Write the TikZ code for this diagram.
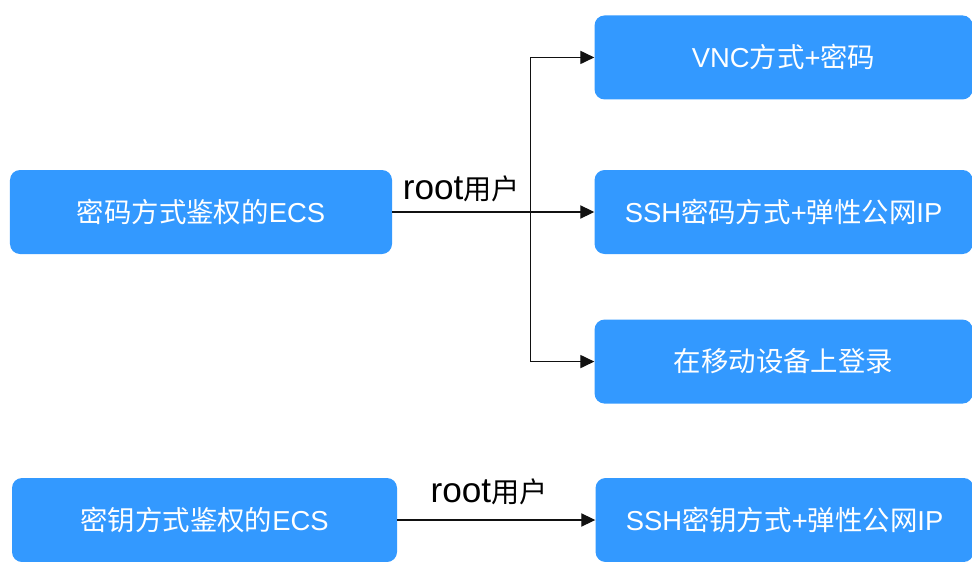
\documentclass[tikz,border=0pt]{standalone}
\usepackage{fontspec}
\setmainfont{Liberation Sans}
\newfontfamily\cjk{Noto Sans CJK SC}
\definecolor{boxblue}{HTML}{3399FF}
\definecolor{fgwhite}{HTML}{FFFFFF}
\definecolor{linegray}{HTML}{111111}
\usepackage{tikz}
\usetikzlibrary{arrows.meta, positioning, calc}
\newcommand{\zh}[1]{{\cjk #1}}
\newcommand{\rootuser}{{\fontsize{25}{30}\selectfont root}{\fontsize{20}{24}\selectfont\cjk 用户}}

\begin{document}
\begin{tikzpicture}[
  node distance=1.7cm,
  ecsbox/.style={rectangle, rounded corners=0.25cm, fill=boxblue, text=fgwhite, minimum width=#1, minimum height=2.1cm, align=center, font=\fontsize{19.5}{24}\selectfont, inner sep=0pt},
  arr/.style={-{Triangle[length=3.5mm, width=3.3mm]}, linegray, line width=0.9pt},
  lbl/.style={text=black, inner sep=1pt},
]
  \useasboundingbox (0,0) rectangle (24.3,-14.025);

  % Password ECS
  \node[ecsbox=9.55cm] (ecs1) at (5.025,-5.3) {\zh{密码方式鉴权的}ECS};
  \node[ecsbox=9.45cm, right=5.05cm of ecs1] (ssh1) {SSH\zh{密码方式}+\zh{弹性公网}IP};
  \node[ecsbox=9.45cm, above=1.75cm of ssh1] (vnc) {VNC\zh{方式}+\zh{密码}};
  \node[ecsbox=9.45cm, below=1.625cm of ssh1] (mob) {\zh{在移动设备上登录}};

  \coordinate (jn) at ($(ecs1.east)+(3.45,0)$);
  \draw[arr] (ecs1.east) -- (ssh1.west);
  \draw[arr] (jn) |- (vnc.west);
  \draw[arr] (jn) |- (mob.west);
  \node[lbl, above=0.2cm] (root1) at ($(ecs1.east)!0.5!(jn)$) {\rootuser};

  % Key pair ECS
  \node[ecsbox=9.625cm] (ecs2) at (5.1125,-13.0) {\zh{密钥方式鉴权的}ECS};
  \node[ecsbox=9.45cm, right=4.95cm of ecs2] (ssh2) {SSH\zh{密钥方式}+\zh{弹性公网}IP};

  \draw[arr] (ecs2.east) -- (ssh2.west);
  \node[lbl, above=0.33cm, xshift=-0.18cm] (root2) at ($(ecs2.east)!0.5!(ssh2.west)$) {\rootuser};
\end{tikzpicture}
\end{document}
